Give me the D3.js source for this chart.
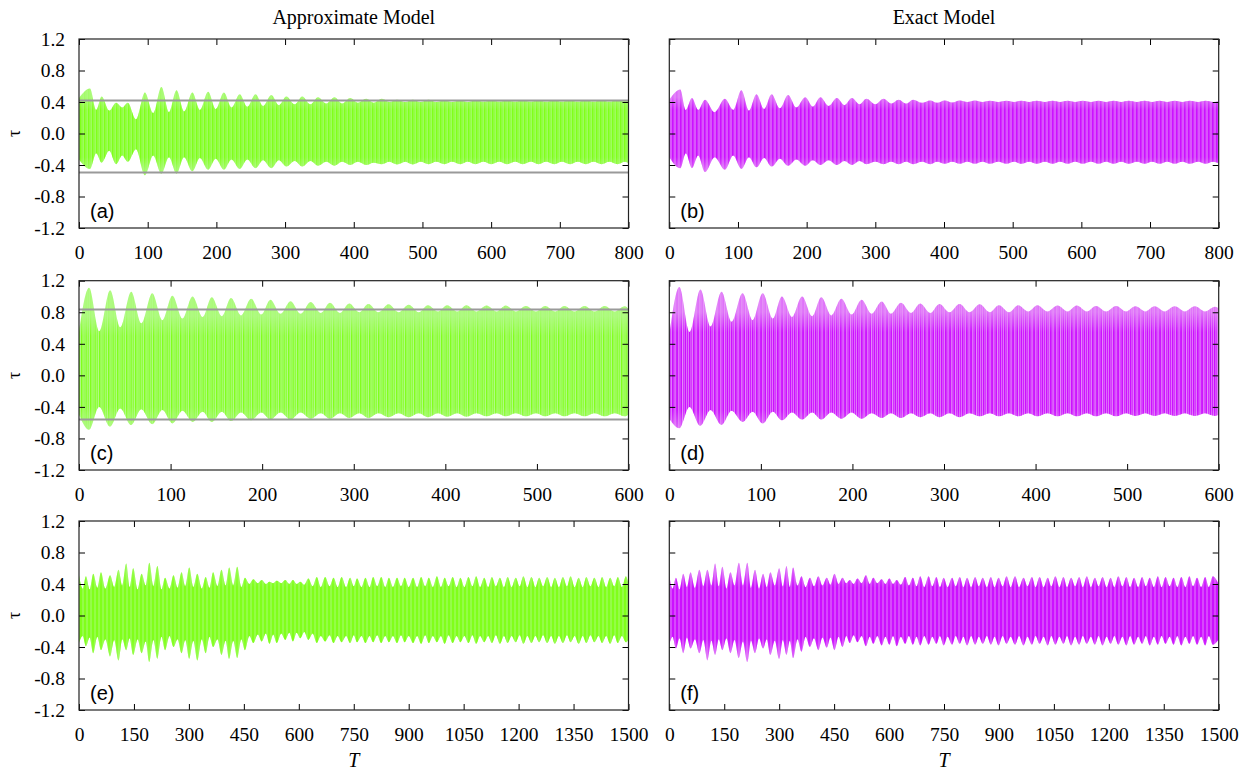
<!DOCTYPE html>
<html>
<head>
<meta charset="utf-8">
<script src="https://cdn.jsdelivr.net/npm/d3@7"></script>
<style>
  body { margin: 0; background: #fff; }
  svg { display: block; }
</style>
</head>
<body>
<div id="root"></div>
<script>
// ---- values (envelope of the fast oscillation: beat maxima and the necks between them) ----
const yTicks = [-1.2, -0.8, -0.4, 0, 0.4, 0.8, 1.2];
const xTicksAB = [0, 100, 200, 300, 400, 500, 600, 700, 800];
const xTicksCD = [0, 100, 200, 300, 400, 500, 600];
const xTicksEF = [0, 150, 300, 450, 600, 750, 900, 1050, 1200, 1350, 1500];

// (a) approximate model, 0..800
const aT = [0, 16, 25, 33, 44, 54, 63, 71, 83, 96, 108, 120, 131, 142, 153, 165, 176, 188, 199, 211,
  222, 234, 245, 257, 268, 280, 291, 302, 314, 325, 337, 348, 360, 372, 383, 395, 406, 418, 429, 441,
  452, 463, 475, 486, 497, 509, 520, 532, 543, 555, 566, 577, 589, 600, 612, 623, 635, 646, 658, 669,
  680, 692, 703, 715, 726, 738, 749, 761, 772, 784, 795, 800];
const aHi = [0.45, 0.57, 0.30, 0.47, 0.29, 0.39, 0.33, 0.39, 0.18, 0.52, 0.26, 0.59, 0.27, 0.55, 0.28, 0.52, 0.30, 0.53, 0.31, 0.52,
  0.33, 0.50, 0.34, 0.50, 0.35, 0.49, 0.36, 0.47, 0.37, 0.47, 0.37, 0.46, 0.38, 0.46, 0.38, 0.45, 0.39, 0.44, 0.39, 0.44,
  0.40, 0.43, 0.40, 0.43, 0.40, 0.43, 0.40, 0.42, 0.40, 0.42, 0.40, 0.42, 0.405, 0.42, 0.405, 0.42, 0.405, 0.42, 0.405, 0.42,
  0.405, 0.42, 0.405, 0.42, 0.405, 0.42, 0.405, 0.42, 0.405, 0.42, 0.41, 0.42];
const aLo = [-0.33, -0.45, -0.25, -0.37, -0.22, -0.39, -0.28, -0.36, -0.20, -0.53, -0.28, -0.51, -0.30, -0.51, -0.30, -0.48, -0.31, -0.46, -0.32, -0.46,
  -0.33, -0.45, -0.33, -0.44, -0.34, -0.44, -0.34, -0.42, -0.35, -0.42, -0.35, -0.41, -0.36, -0.41, -0.36, -0.40, -0.36, -0.40, -0.37, -0.39,
  -0.36, -0.395, -0.36, -0.395, -0.36, -0.39, -0.36, -0.39, -0.36, -0.39, -0.36, -0.39, -0.36, -0.39, -0.36, -0.39, -0.36, -0.39, -0.36, -0.39,
  -0.36, -0.39, -0.36, -0.39, -0.36, -0.39, -0.36, -0.39, -0.36, -0.39, -0.36, -0.38];
const aRef = [0.42, -0.495];

// (b) exact model, 0..800
const bT = [0, 16, 24, 33, 42, 52, 66, 81, 93, 105, 116, 127, 138, 149, 161, 173, 185, 198, 209, 220,
  232, 244, 255, 266, 277, 287, 300, 312, 323, 334, 345, 355, 368, 380, 390, 401, 412, 423, 434, 445,
  456, 467, 479, 491, 502, 513, 524, 535, 547, 558, 569, 580, 591, 602, 614, 625, 636, 647, 658, 669,
  681, 692, 703, 714, 725, 736, 747, 758, 770, 781, 792, 800];
const bHi = [0.43, 0.56, 0.30, 0.45, 0.30, 0.43, 0.27, 0.44, 0.30, 0.55, 0.29, 0.50, 0.31, 0.50, 0.32, 0.49, 0.33, 0.46, 0.34, 0.46,
  0.35, 0.45, 0.36, 0.45, 0.37, 0.44, 0.37, 0.44, 0.38, 0.43, 0.38, 0.43, 0.39, 0.42, 0.39, 0.42, 0.395, 0.42, 0.40, 0.42,
  0.40, 0.415, 0.40, 0.415, 0.40, 0.415, 0.40, 0.415, 0.40, 0.415, 0.40, 0.415, 0.40, 0.415, 0.40, 0.415, 0.40, 0.415, 0.40, 0.415,
  0.40, 0.415, 0.40, 0.415, 0.40, 0.415, 0.40, 0.415, 0.40, 0.415, 0.40, 0.41];
const bLo = [-0.30, -0.44, -0.25, -0.44, -0.28, -0.49, -0.30, -0.46, -0.28, -0.45, -0.30, -0.43, -0.31, -0.42, -0.32, -0.41, -0.33, -0.41, -0.34, -0.40,
  -0.34, -0.40, -0.35, -0.40, -0.35, -0.39, -0.36, -0.39, -0.36, -0.39, -0.36, -0.39, -0.36, -0.39, -0.36, -0.385, -0.36, -0.385, -0.36, -0.385,
  -0.36, -0.385, -0.36, -0.385, -0.36, -0.385, -0.36, -0.385, -0.36, -0.385, -0.36, -0.385, -0.36, -0.385, -0.36, -0.385, -0.36, -0.385, -0.36, -0.385,
  -0.36, -0.385, -0.36, -0.385, -0.36, -0.385, -0.36, -0.385, -0.36, -0.385, -0.36, -0.38];

// (c) approximate model, 0..600
const cT = [0, 11, 22, 34, 45, 57, 68, 80, 91, 102, 113, 124, 135, 145, 156, 166, 177, 188, 199, 209,
  220, 231, 242, 253, 264, 274, 285, 295, 306, 316, 327, 338, 349, 360, 371, 381, 392, 402, 413, 423,
  434, 445, 456, 466, 477, 488, 499, 509, 520, 530, 541, 552, 563, 574, 585, 596, 600];
const cHi = [0.55, 1.11, 0.56, 1.08, 0.61, 1.06, 0.66, 1.04, 0.70, 1.01, 0.72, 1.00, 0.74, 0.99, 0.75, 0.98, 0.76, 0.97, 0.77, 0.96,
  0.78, 0.94, 0.78, 0.93, 0.79, 0.92, 0.79, 0.91, 0.80, 0.905, 0.80, 0.90, 0.80, 0.895, 0.80, 0.89, 0.81, 0.89, 0.81, 0.89,
  0.81, 0.885, 0.81, 0.885, 0.81, 0.88, 0.81, 0.88, 0.81, 0.88, 0.81, 0.88, 0.81, 0.88, 0.81, 0.875, 0.84];
const cLo = [-0.50, -0.69, -0.40, -0.65, -0.42, -0.63, -0.43, -0.62, -0.44, -0.61, -0.45, -0.59, -0.46, -0.59, -0.46, -0.58, -0.47, -0.57, -0.47, -0.56,
  -0.47, -0.56, -0.47, -0.55, -0.48, -0.55, -0.48, -0.54, -0.48, -0.54, -0.48, -0.53, -0.48, -0.53, -0.48, -0.53, -0.48, -0.525, -0.48, -0.525,
  -0.48, -0.52, -0.48, -0.52, -0.48, -0.52, -0.48, -0.52, -0.48, -0.52, -0.48, -0.52, -0.48, -0.52, -0.48, -0.52, -0.50];
const cRef = [0.835, -0.56];

// (d) exact model, 0..600
const dT = [0, 11, 22, 34, 45, 57, 68, 80, 91, 102, 113, 123, 134, 145, 156, 166, 177, 188, 199, 210,
  221, 232, 242, 253, 264, 274, 285, 295, 306, 317, 328, 339, 350, 360, 371, 381, 392, 402, 413, 424,
  435, 445, 456, 466, 477, 488, 499, 509, 520, 530, 541, 552, 563, 574, 585, 596, 600];
const dHi = [0.50, 1.12, 0.55, 1.09, 0.62, 1.06, 0.68, 1.04, 0.70, 1.04, 0.72, 1.00, 0.74, 1.00, 0.75, 0.99, 0.76, 0.97, 0.77, 0.96,
  0.78, 0.935, 0.78, 0.92, 0.79, 0.91, 0.79, 0.905, 0.80, 0.905, 0.80, 0.90, 0.80, 0.89, 0.80, 0.89, 0.81, 0.89, 0.81, 0.885,
  0.81, 0.885, 0.81, 0.88, 0.81, 0.88, 0.81, 0.875, 0.81, 0.875, 0.81, 0.875, 0.81, 0.875, 0.81, 0.87, 0.85];
const dLo = [-0.55, -0.67, -0.40, -0.64, -0.44, -0.63, -0.45, -0.59, -0.46, -0.61, -0.46, -0.57, -0.47, -0.56, -0.47, -0.56, -0.47, -0.55, -0.47, -0.55,
  -0.48, -0.54, -0.48, -0.54, -0.48, -0.53, -0.48, -0.53, -0.48, -0.53, -0.48, -0.52, -0.48, -0.52, -0.48, -0.52, -0.48, -0.52, -0.48, -0.52,
  -0.48, -0.52, -0.48, -0.52, -0.48, -0.52, -0.48, -0.515, -0.48, -0.515, -0.48, -0.515, -0.48, -0.515, -0.48, -0.515, -0.50];

// (e) approximate model, 0..1500: spikes and the necks between them
const ePeakT = [0, 19, 39, 60, 85, 108, 129, 148, 171, 192, 214, 235, 258, 280, 301, 323, 346, 366, 389, 410,
  432, 453, 476, 499, 520, 540, 563, 584, 604, 626, 649, 672, 695, 717, 740, 759, 782, 803, 825, 846,
  868, 889, 912, 934, 955, 977, 998, 1020, 1041, 1063, 1084, 1106, 1127, 1149, 1170, 1192, 1213, 1235, 1256, 1278,
  1299, 1321, 1342, 1364, 1385, 1407, 1428, 1450, 1471, 1493];
const ePeakHi = [0.51, 0.50, 0.53, 0.55, 0.51, 0.58, 0.66, 0.60, 0.53, 0.67, 0.63, 0.48, 0.51, 0.55, 0.61, 0.53, 0.49, 0.55, 0.58, 0.61,
  0.62, 0.48, 0.46, 0.45, 0.43, 0.44, 0.45, 0.45, 0.43, 0.47, 0.49, 0.49, 0.48, 0.49, 0.48, 0.47, 0.48, 0.49, 0.49, 0.48,
  0.48, 0.48, 0.48, 0.49, 0.48, 0.50, 0.48, 0.49, 0.48, 0.49, 0.50, 0.48, 0.49, 0.48, 0.49, 0.48, 0.50, 0.49, 0.48, 0.49,
  0.48, 0.49, 0.50, 0.48, 0.49, 0.48, 0.49, 0.48, 0.49, 0.50];
const ePeakLo = [-0.35, -0.39, -0.48, -0.44, -0.52, -0.57, -0.44, -0.50, -0.48, -0.59, -0.55, -0.44, -0.40, -0.48, -0.55, -0.57, -0.48, -0.40, -0.50, -0.55,
  -0.54, -0.44, -0.35, -0.33, -0.36, -0.35, -0.31, -0.33, -0.29, -0.31, -0.35, -0.33, -0.35, -0.34, -0.35, -0.34, -0.35, -0.34, -0.35, -0.34,
  -0.35, -0.34, -0.35, -0.36, -0.35, -0.34, -0.36, -0.35, -0.34, -0.35, -0.36, -0.34, -0.35, -0.36, -0.35, -0.34, -0.36, -0.35, -0.34, -0.35,
  -0.36, -0.35, -0.34, -0.36, -0.35, -0.34, -0.35, -0.36, -0.35, -0.34];
const eNeckT = [10, 29, 50, 72, 96, 118, 138, 160, 182, 203, 225, 247, 269, 290, 312, 335, 356, 378, 400, 421,
  443, 465, 488, 510, 530, 552, 574, 594, 615, 638, 660, 684, 706, 729, 750, 771, 793, 814, 836, 857,
  879, 900, 923, 945, 966, 988, 1009, 1031, 1052, 1074, 1095, 1117, 1138, 1160, 1181, 1203, 1224, 1246, 1267, 1289,
  1310, 1332, 1353, 1375, 1396, 1418, 1439, 1461, 1482, 1500];
const eNeckHi = [0.34, 0.33, 0.35, 0.34, 0.36, 0.38, 0.36, 0.33, 0.38, 0.37, 0.33, 0.34, 0.35, 0.37, 0.36, 0.34, 0.35, 0.37, 0.38, 0.38,
  0.36, 0.40, 0.41, 0.40, 0.41, 0.41, 0.40, 0.40, 0.39, 0.37, 0.36, 0.37, 0.36, 0.36, 0.37, 0.36, 0.36, 0.37, 0.36, 0.36,
  0.37, 0.36, 0.36, 0.37, 0.36, 0.36, 0.37, 0.36, 0.36, 0.37, 0.36, 0.36, 0.37, 0.36, 0.36, 0.37, 0.36, 0.36, 0.37, 0.36,
  0.36, 0.37, 0.36, 0.36, 0.37, 0.36, 0.36, 0.37, 0.36, 0.40];
const eNeckLo = [-0.26, -0.28, -0.27, -0.30, -0.31, -0.30, -0.29, -0.30, -0.33, -0.31, -0.27, -0.26, -0.30, -0.31, -0.32, -0.30, -0.27, -0.30, -0.32, -0.32,
  -0.30, -0.26, -0.24, -0.23, -0.24, -0.23, -0.22, -0.22, -0.21, -0.23, -0.26, -0.25, -0.26, -0.26, -0.25, -0.26, -0.26, -0.25, -0.26, -0.26,
  -0.25, -0.26, -0.26, -0.25, -0.26, -0.26, -0.25, -0.26, -0.26, -0.25, -0.26, -0.26, -0.25, -0.26, -0.26, -0.25, -0.26, -0.26, -0.25, -0.26,
  -0.26, -0.25, -0.26, -0.26, -0.25, -0.26, -0.26, -0.25, -0.26, -0.30];

// (f) exact model, 0..1500
const fPeakT = [0, 18, 38, 58, 82, 104, 125, 145, 167, 190, 213, 234, 256, 276, 300, 320, 338, 361, 384, 407,
  430, 451, 473, 493, 514, 537, 557, 580, 601, 621, 644, 665, 685, 708, 729, 749, 772, 793, 813, 835,
  856, 878, 899, 921, 944, 967, 990, 1011, 1033, 1054, 1076, 1097, 1119, 1140, 1162, 1183, 1205, 1226, 1248, 1269,
  1291, 1312, 1334, 1355, 1377, 1398, 1420, 1441, 1463, 1484];
const fPeakHi = [0.51, 0.48, 0.53, 0.55, 0.58, 0.58, 0.66, 0.62, 0.55, 0.67, 0.67, 0.58, 0.53, 0.55, 0.60, 0.63, 0.61, 0.50, 0.48, 0.50,
  0.48, 0.53, 0.48, 0.45, 0.47, 0.51, 0.48, 0.46, 0.47, 0.45, 0.49, 0.48, 0.50, 0.50, 0.49, 0.48, 0.48, 0.49, 0.48, 0.49,
  0.48, 0.49, 0.48, 0.50, 0.50, 0.48, 0.49, 0.49, 0.48, 0.50, 0.49, 0.48, 0.49, 0.50, 0.48, 0.49, 0.48, 0.50, 0.49, 0.48,
  0.49, 0.48, 0.50, 0.49, 0.48, 0.49, 0.50, 0.48, 0.49, 0.50];
const fPeakLo = [-0.37, -0.42, -0.48, -0.42, -0.48, -0.57, -0.50, -0.44, -0.48, -0.54, -0.59, -0.48, -0.42, -0.50, -0.55, -0.50, -0.54, -0.46, -0.40, -0.44,
  -0.41, -0.44, -0.40, -0.35, -0.34, -0.39, -0.36, -0.38, -0.37, -0.39, -0.36, -0.37, -0.38, -0.37, -0.36, -0.38, -0.37, -0.36, -0.38, -0.37,
  -0.36, -0.37, -0.38, -0.36, -0.37, -0.38, -0.37, -0.36, -0.38, -0.37, -0.36, -0.38, -0.37, -0.36, -0.37, -0.38, -0.36, -0.37, -0.38, -0.37,
  -0.36, -0.38, -0.37, -0.36, -0.37, -0.38, -0.36, -0.37, -0.38, -0.37];
const fNeckT = [9, 28, 48, 70, 93, 115, 135, 156, 178, 201, 223, 245, 266, 288, 310, 329, 350, 372, 395, 418,
  440, 462, 483, 503, 525, 547, 568, 590, 611, 632, 654, 675, 696, 718, 739, 760, 782, 803, 824, 845,
  867, 888, 910, 932, 955, 978, 1000, 1022, 1043, 1065, 1086, 1108, 1129, 1151, 1172, 1194, 1215, 1237, 1258, 1280,
  1301, 1323, 1344, 1366, 1387, 1409, 1430, 1452, 1473, 1500];
const fNeckHi = [0.34, 0.33, 0.36, 0.35, 0.37, 0.38, 0.37, 0.34, 0.38, 0.38, 0.35, 0.34, 0.36, 0.38, 0.37, 0.36, 0.38, 0.36, 0.37, 0.38,
  0.39, 0.40, 0.41, 0.40, 0.41, 0.40, 0.41, 0.40, 0.40, 0.39, 0.38, 0.37, 0.36, 0.37, 0.36, 0.36, 0.37, 0.36, 0.36, 0.37,
  0.36, 0.36, 0.37, 0.36, 0.36, 0.37, 0.36, 0.36, 0.37, 0.36, 0.36, 0.37, 0.36, 0.36, 0.37, 0.36, 0.36, 0.37, 0.36, 0.36,
  0.37, 0.36, 0.36, 0.37, 0.36, 0.36, 0.37, 0.36, 0.36, 0.40];
const fNeckLo = [-0.27, -0.29, -0.28, -0.30, -0.31, -0.32, -0.30, -0.29, -0.31, -0.33, -0.32, -0.29, -0.30, -0.32, -0.31, -0.32, -0.30, -0.27, -0.29, -0.28,
  -0.28, -0.27, -0.26, -0.25, -0.26, -0.27, -0.26, -0.27, -0.26, -0.27, -0.26, -0.27, -0.26, -0.27, -0.26, -0.27, -0.26, -0.27, -0.26, -0.27,
  -0.26, -0.27, -0.26, -0.27, -0.26, -0.27, -0.26, -0.27, -0.26, -0.27, -0.26, -0.27, -0.26, -0.27, -0.26, -0.27, -0.26, -0.27, -0.26, -0.27,
  -0.26, -0.27, -0.26, -0.27, -0.26, -0.27, -0.26, -0.27, -0.26, -0.30];

// ---- helpers ----
function series(t, hi, lo) {
  return t.map((v, i) => ({ t: v, hi: hi[i], lo: lo[i] }));
}
function spikes(pt, phi, plo, nt, nhi, nlo) {
  return series(pt, phi, plo).concat(series(nt, nhi, nlo)).sort((p, q) => p.t - q.t);
}

const W = 1255, H = 770;
const serif = "'Liberation Serif', 'Times New Roman', Times, serif";
const sans = "'Liberation Sans', Arial, Helvetica, sans-serif";
const cols = [{ x0: 79, x1: 628.5 }, { x0: 669.3, x1: 1218.7 }];
const rows = [{ y0: 39, y1: 228 }, { y0: 280.7, y1: 470 }, { y0: 521, y1: 710 }];

const green = { light: "#b3fa8a", dark: "#80ff1a" };
const magenta = { light: "#e79cf7", dark: "#cc10ff" };

const panels = [
  { id: "a", col: 0, row: 0, xMax: 800, xTicks: xTicksAB, data: series(aT, aHi, aLo), ref: aRef, color: green,
    stripes: [[0, 1.7], [2.4, 1.0]], period: 4, coreHi: 0.3, coreLo: -0.3, fade: 0.16, edge: 0.3 },
  { id: "b", col: 1, row: 0, xMax: 800, xTicks: xTicksAB, data: series(bT, bHi, bLo), ref: [], color: magenta,
    stripes: [[0, 1.8], [2.5, 1.0]], period: 4, coreHi: 0.3, coreLo: -0.3, fade: 0.16, edge: 0.35 },
  { id: "c", col: 0, row: 1, xMax: 600, xTicks: xTicksCD, data: series(cT, cHi, cLo), ref: cRef, color: green,
    stripes: [[0, 1.4], [2.5, 0.9]], period: 4.5, coreHi: 0.5, coreLo: -0.4, fade: 0.25, edge: 0.2 },
  { id: "d", col: 1, row: 1, xMax: 600, xTicks: xTicksCD, data: series(dT, dHi, dLo), ref: [], color: magenta,
    stripes: [[0, 1.8], [2.6, 0.9]], period: 4.2, coreHi: 0.55, coreLo: -0.45, fade: 0.25, edge: 0.3 },
  { id: "e", col: 0, row: 2, xMax: 1500, xTicks: xTicksEF, data: spikes(ePeakT, ePeakHi, ePeakLo, eNeckT, eNeckHi, eNeckLo), ref: [], color: green,
    stripes: [[0, 2.6], [3.1, 0.6]], period: 4, coreHi: 0.36, coreLo: -0.3, fade: 0.2, edge: 0.55 },
  { id: "f", col: 1, row: 2, xMax: 1500, xTicks: xTicksEF, data: spikes(fPeakT, fPeakHi, fPeakLo, fNeckT, fNeckHi, fNeckLo), ref: [], color: magenta,
    stripes: [[0, 2.6], [3.1, 0.6]], period: 4, coreHi: 0.36, coreLo: -0.3, fade: 0.2, edge: 0.45 },
];

const svg = d3.select("#root").append("svg").attr("width", W).attr("height", H);
const defs = svg.append("defs");

function styleAxis(g) {
  g.select(".domain").remove();
  g.attr("font-family", serif).attr("font-size", 19.5);
  g.selectAll(".tick line").attr("stroke", "#000");
  g.selectAll(".tick text").attr("fill", "#000")
    .attr("font-family", serif).attr("font-size", 19.5);
}

panels.forEach((p) => {
  const c = cols[p.col], r = rows[p.row];
  const x = d3.scaleLinear().domain([0, p.xMax]).range([c.x0, c.x1]);
  const y = d3.scaleLinear().domain([-1.2, 1.2]).range([r.y1, r.y0]);

  defs.append("clipPath").attr("id", "clip-" + p.id)
    .append("rect").attr("x", c.x0).attr("y", r.y0).attr("width", c.x1 - c.x0).attr("height", r.y1 - r.y0);

  // vertical streaks of the dense oscillation
  const pat = defs.append("pattern").attr("id", "pat-" + p.id)
    .attr("patternUnits", "userSpaceOnUse").attr("width", p.period).attr("height", 20);
  p.stripes.forEach(([sx, sw]) => {
    pat.append("rect").attr("x", sx).attr("y", 0).attr("width", sw).attr("height", 20).attr("fill", p.color.dark);
  });

  // streaks are strongest in the core, lobes stay light
  const off = (v) => (1.2 - v) / 2.4;
  const grad = defs.append("linearGradient").attr("id", "grad-" + p.id)
    .attr("gradientUnits", "userSpaceOnUse").attr("x1", 0).attr("x2", 0).attr("y1", y(1.2)).attr("y2", y(-1.2));
  [[0, p.edge], [off(p.coreHi + p.fade), p.edge], [off(p.coreHi), 1], [off(p.coreLo), 1],
   [off(p.coreLo - p.fade), p.edge], [1, p.edge]].forEach(([o, a]) => {
    grad.append("stop").attr("offset", o).attr("stop-color", "#fff").attr("stop-opacity", a);
  });
  defs.append("mask").attr("id", "mask-" + p.id).attr("maskUnits", "userSpaceOnUse")
    .attr("x", c.x0).attr("y", r.y0).attr("width", c.x1 - c.x0).attr("height", r.y1 - r.y0)
    .append("rect").attr("x", c.x0).attr("y", r.y0).attr("width", c.x1 - c.x0).attr("height", r.y1 - r.y0)
    .attr("fill", `url(#grad-${p.id})`);

  const area = d3.area().curve(d3.curveMonotoneX)
    .x((d) => x(d.t)).y0((d) => y(d.lo)).y1((d) => y(d.hi));

  const plot = svg.append("g").attr("clip-path", `url(#clip-${p.id})`);
  plot.append("path").datum(p.data).attr("d", area).attr("fill", p.color.light);
  plot.append("g").attr("mask", `url(#mask-${p.id})`)
    .append("path").datum(p.data).attr("d", area).attr("fill", `url(#pat-${p.id})`);

  plot.selectAll(".ref").data(p.ref).enter().append("line").attr("class", "ref")
    .attr("x1", c.x0).attr("x2", c.x1).attr("y1", (d) => y(d)).attr("y2", (d) => y(d))
    .attr("stroke", "#9a9a9a").attr("stroke-width", 2);

  // axes: ticks point inward on all four sides
  svg.append("g").attr("transform", `translate(0,${r.y1})`)
    .call(d3.axisBottom(x).tickValues(p.xTicks).tickSize(-6).tickSizeOuter(0).tickPadding(17).tickFormat(d3.format("d")))
    .call(styleAxis);

  svg.append("g").attr("transform", `translate(0,${r.y0})`)
    .call(d3.axisTop(x).tickValues(p.xTicks).tickSize(-6).tickSizeOuter(0).tickFormat(""))
    .call(styleAxis);

  svg.append("g").attr("transform", `translate(${c.x0},0)`)
    .call(d3.axisLeft(y).tickValues(yTicks).tickSize(-6).tickSizeOuter(0).tickPadding(14)
      .tickFormat(p.col === 0 ? (d) => d.toFixed(1) : ""))
    .call(styleAxis);

  svg.append("g").attr("transform", `translate(${c.x1},0)`)
    .call(d3.axisRight(y).tickValues(yTicks).tickSize(-6).tickSizeOuter(0).tickFormat(""))
    .call(styleAxis);

  svg.append("rect").attr("x", c.x0).attr("y", r.y0).attr("width", c.x1 - c.x0).attr("height", r.y1 - r.y0)
    .attr("fill", "none").attr("stroke", "#222").attr("stroke-width", 1.2);

  svg.append("text").attr("x", c.x0 + 11).attr("y", r.y1 - 10)
    .attr("font-family", sans).attr("font-size", 20).attr("fill", "#000")
    .text(`(${p.id})`);

  if (p.col === 0) {
    svg.append("text").attr("transform", `translate(16,${(r.y0 + r.y1) / 2}) rotate(-90)`)
      .attr("text-anchor", "middle").attr("dominant-baseline", "middle")
      .attr("font-family", serif).attr("font-size", 18).text("τ");
  }
});

// column titles and the shared T labels
const titles = ["Approximate Model", "Exact Model"];
titles.forEach((t, i) => {
  svg.append("text").attr("x", (cols[i].x0 + cols[i].x1) / 2).attr("y", 24)
    .attr("text-anchor", "middle").attr("font-family", serif).attr("font-size", 20).text(t);
  svg.append("text").attr("x", (cols[i].x0 + cols[i].x1) / 2).attr("y", 767)
    .attr("text-anchor", "middle").attr("font-family", serif).attr("font-style", "italic")
    .attr("font-size", 20).text("T");
});
</script>
</body>
</html>
